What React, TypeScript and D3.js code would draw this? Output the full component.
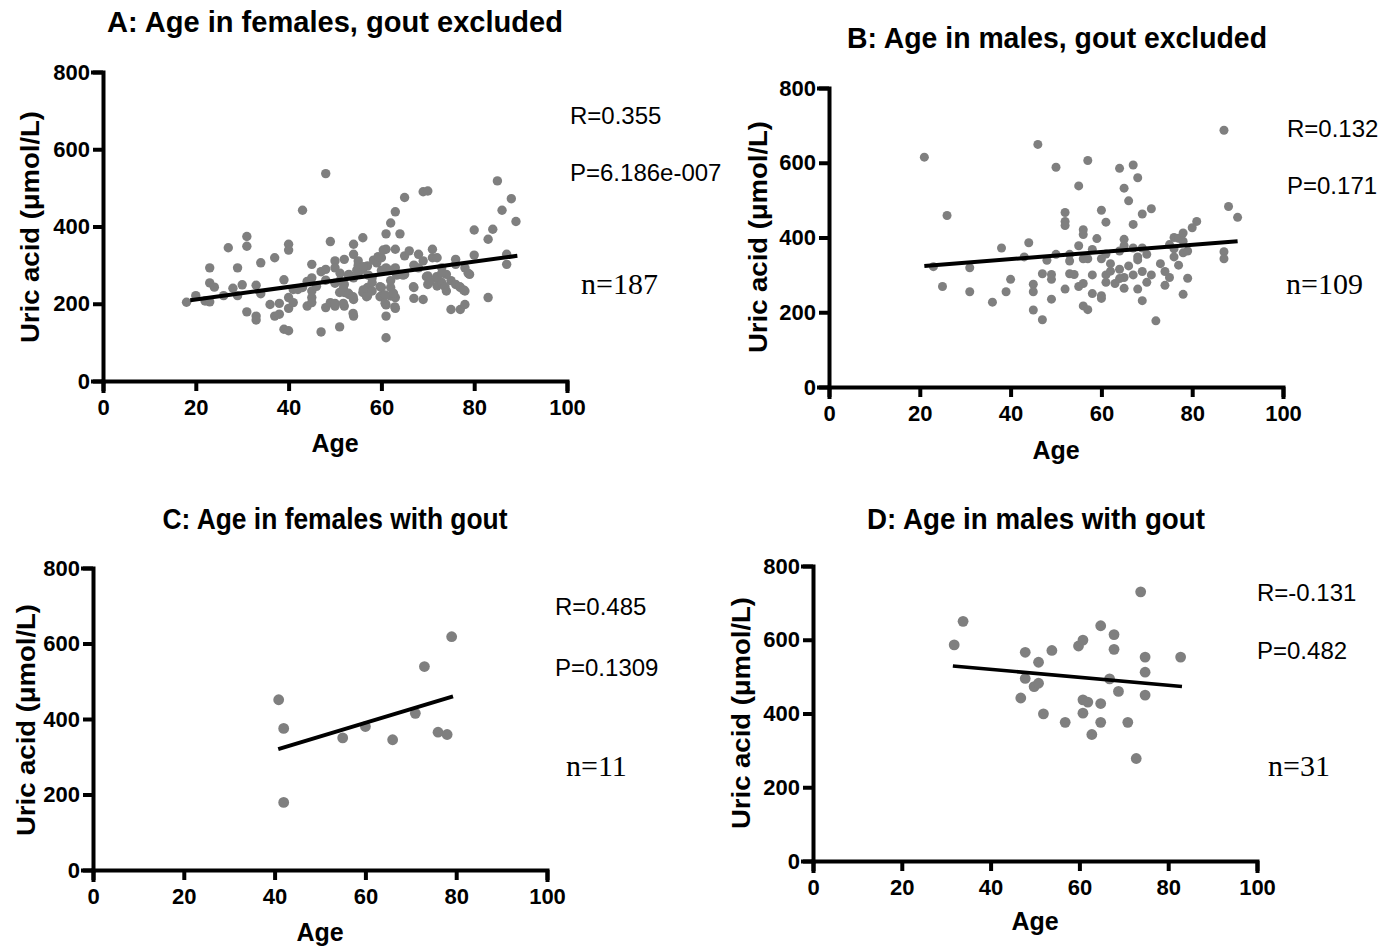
import React, { useEffect, useRef } from 'react';
import * as d3 from 'd3';

// A: females, gout excluded (age, uric acid)
const ageA = [
  18, 20, 22, 23, 23, 24, 23, 26, 27, 28, 29, 29, 30, 31, 31, 31, 33, 33, 33, 34,
  34, 36, 37, 37, 38, 38, 39, 40, 39, 40, 40, 40, 40, 41, 41, 42, 43, 43, 44, 44,
  45, 45, 45, 45, 45, 46, 47, 48, 47, 48, 48, 48, 49, 49, 50, 50, 50, 51, 51, 51,
  52, 52, 52, 52, 53, 53, 54, 54, 54, 54, 54, 55, 55, 55, 56, 56, 56, 57, 57, 57,
  58, 58, 58, 59, 60, 60, 60, 60, 61, 61, 61, 61, 61, 61, 62, 62, 62, 62, 63, 63,
  63, 63, 63, 64, 64, 65, 65, 65,
  51.1, 52.9, 54.7, 56.1, 57.2, 58.3, 59.3, 60.4, 60.4, 61.9, 63.3, 64.7, 50, 51.8,
  52.9, 56.1, 56.8, 59.7, 59.7, 60.8, 62.6, 60.8, 62.9, 53.9, 50, 51.8, 53.9,
  66, 67, 67, 67, 68, 68, 69, 70, 69, 69, 71, 71, 70, 70, 72, 72, 72, 73, 73, 74,
  74, 75, 75, 76, 76, 76, 77, 77, 78, 78, 78, 79, 80, 80, 83, 83, 84, 85, 86, 87,
  87, 88, 89, 66.9, 69.7, 70.5, 71.9, 73, 73.7, 76.9, 77.7, 78.7,
];
const uricA = [
  204, 221, 207, 293, 254, 243, 205, 221, 345, 240, 293, 221, 249, 374, 349, 179, 168, 158, 248, 306,
  226, 198, 319, 168, 201, 173, 134, 130, 262, 354, 339, 216, 188, 203, 237, 237, 442, 242, 194, 258,
  302, 267, 233, 203, 216, 245, 127, 537, 283, 289, 261, 190, 361, 203, 311, 293, 194, 140, 259, 229,
  315, 250, 229, 194, 276, 224, 354, 328, 267, 211, 168, 311, 280, 300, 371, 289, 229, 298, 242, 220,
  267, 233, 255, 306, 319, 286, 242, 220, 381, 341, 293, 197, 168, 112, 409, 242, 220, 260, 438, 341,
  293, 216, 188, 381, 276, 475, 324, 276,
  279, 274, 287, 296, 274, 313, 322, 339, 287, 287, 274, 274, 253, 240,
  227, 236, 218, 244, 218, 223, 227, 201, 192, 218, 201, 201, 175,
  337, 242, 214, 300, 328, 293, 490, 492, 311, 211, 341, 319, 272, 250, 319, 267, 246, 293, 255, 276,
  233, 185, 260, 315, 302, 250, 185, 242, 293, 233, 198, 276, 391, 326, 367, 216, 393, 518, 442, 328,
  302, 472, 413, 244, 270, 257, 270, 279, 244, 244, 236, 279,
];

// B: males, gout excluded
const ageB = [
  21, 23, 25, 26, 31, 31, 36, 38, 39, 40, 43, 44, 45, 45, 45, 46, 47, 47, 48, 49,
  49, 49, 50, 50, 52, 52, 52, 52, 53, 53, 54, 55, 55, 55, 56, 56, 56, 56, 56, 57,
  57, 57, 58, 58, 59, 60, 60, 60, 60, 61, 61, 61, 61, 62, 63, 64, 64, 64, 65, 65,
  65, 65, 65, 66, 66, 67, 67, 67, 67, 68, 68, 68, 69, 69, 69, 69, 70, 70, 71, 72,
  74, 74, 75, 75, 76, 76, 77, 77, 78, 78, 78, 78, 79, 79, 80, 81, 87, 87, 87, 88,
  90, 53, 58, 62, 64, 68, 71, 73, 76,
];
const uricB = [
  615, 322, 269, 459, 319, 255, 227, 372, 255, 288, 348, 386, 275, 255, 206, 649, 180, 303, 339, 301,
  288, 235, 588, 355, 467, 443, 432, 262, 337, 303, 301, 538, 378, 269, 421, 408, 343, 277, 217, 606,
  343, 207, 368, 250, 397, 473, 343, 244, 237, 441, 356, 300, 280, 310, 277, 585, 364, 315, 532, 395,
  378, 293, 264, 498, 324, 594, 435, 372, 300, 560, 348, 262, 463, 372, 309, 231, 355, 280, 477, 177,
  309, 272, 381, 293, 400, 348, 398, 326, 412, 390, 359, 248, 364, 291, 426, 443, 687, 362, 343, 483,
  454, 355, 300, 330, 290, 340, 300, 330, 370,
];

// C: females with gout
const ageC = [40.9, 42, 42, 55, 60, 66, 71, 73, 76, 78, 79];
const uricC = [451, 375, 179, 350, 380, 345, 415, 539, 365, 359, 618];

// D: males with gout
const ageD = [
  31.8, 33.8, 47.8, 46.8, 47.8, 49.8, 50.8, 50.8, 51.9, 53.8, 56.8, 59.8, 60.8, 60.8, 61.9, 60.8,
  62.8, 64.8, 64.8, 64.8, 66.8, 67.8, 67.8, 68.8, 70.9, 72.8, 73.8, 74.8, 74.8, 74.8, 82.8,
];
const uricD = [
  586, 650, 566, 442, 495, 473, 539, 482, 399, 571, 376, 583, 599, 437, 431, 401,
  343, 638, 427, 376, 494, 614, 574, 460, 376, 278, 730, 553, 512, 450, 553,
];

// regression lines: [start, end]
const fitAgeA = [18.8, 89.3];
const fitUricA = [209, 324];
const fitAgeB = [21, 90];
const fitUricB = [324, 390];
const fitAgeC = [40.8, 79.3];
const fitUricC = [320, 460];
const fitAgeD = [31.5, 83.1];
const fitUricD = [529, 473];

const xTicks = [0, 20, 40, 60, 80, 100];
const yTicks = [0, 200, 400, 600, 800];

const panels = [
  {
    title: 'A: Age in females, gout excluded', ages: ageA, uric: uricA, fitAge: fitAgeA, fitUric: fitUricA,
    stats: ['R=0.355', 'P=6.186e-007'], n: 'n=187',
    x0: 103, x1: 567, y0: 381, y1: 72, titleX: 335, titleY: 32, titleLen: 456,
    yLabX: 30, yLabY: 227, xLabY: 452, statX: 570, statY: [124, 181], nX: 581, nY: 294, dot: 4.7, lineW: 4,
  },
  {
    title: 'B: Age in males, gout excluded', ages: ageB, uric: uricB, fitAge: fitAgeB, fitUric: fitUricB,
    stats: ['R=0.132', 'P=0.171'], n: 'n=109',
    x0: 829, x1: 1283, y0: 387, y1: 88, titleX: 1057, titleY: 48, titleLen: 420,
    yLabX: 758, yLabY: 237, xLabY: 459, statX: 1287, statY: [137, 194], nX: 1286, nY: 294, dot: 4.5, lineW: 4,
  },
  {
    title: 'C: Age in females with gout', ages: ageC, uric: uricC, fitAge: fitAgeC, fitUric: fitUricC,
    stats: ['R=0.485', 'P=0.1309'], n: 'n=11',
    x0: 93, x1: 547, y0: 870, y1: 568, titleX: 335, titleY: 529, titleLen: 345,
    yLabX: 26, yLabY: 720, xLabY: 941, statX: 555, statY: [615, 676], nX: 566, nY: 776, dot: 5.4, lineW: 4,
  },
  {
    title: 'D: Age in males with gout', ages: ageD, uric: uricD, fitAge: fitAgeD, fitUric: fitUricD,
    stats: ['R=-0.131', 'P=0.482'], n: 'n=31',
    x0: 813, x1: 1257, y0: 861, y1: 566, titleX: 1036, titleY: 529, titleLen: 338,
    yLabX: 741, yLabY: 713, xLabY: 930, statX: 1257, statY: [601, 659], nX: 1268, nY: 776, dot: 5.4, lineW: 3.5,
  },
];

const SANS = '"Liberation Sans", Arial, sans-serif';
const SERIF = '"Liberation Serif", "Times New Roman", serif';

export default function App() {
  const ref = useRef<SVGSVGElement>(null);

  useEffect(() => {
    const svg = d3.select(ref.current);
    svg.selectAll('*').remove();

    panels.forEach((p) => {
      const x = d3.scaleLinear().domain([0, 100]).range([p.x0, p.x1]);
      const y = d3.scaleLinear().domain([0, 800]).range([p.y0, p.y1]);
      const g = svg.append('g');

      // axes
      const xAxis = g.append('g')
        .attr('transform', `translate(0, ${p.y0})`)
        .call(d3.axisBottom(x).tickValues(xTicks).tickSizeOuter(0).tickSize(10).tickPadding(8));
      const yAxis = g.append('g')
        .attr('transform', `translate(${p.x0}, 0)`)
        .call(d3.axisLeft(y).tickValues(yTicks).tickSizeOuter(0).tickSize(10).tickPadding(3));

      [xAxis, yAxis].forEach((a) => {
        a.select('.domain').attr('stroke', '#000').attr('stroke-width', 4).attr('stroke-linecap', 'square');
        a.selectAll('.tick line').attr('stroke', '#000').attr('stroke-width', 4);
        a.selectAll('.tick text')
          .attr('fill', '#000')
          .style('font-family', SANS)
          .style('font-weight', 'bold')
          .style('font-size', '22px');
      });

      // points
      g.append('g')
        .selectAll('circle')
        .data(p.ages)
        .join('circle')
        .attr('cx', (d) => x(d))
        .attr('cy', (d, i) => y(p.uric[i]))
        .attr('r', p.dot)
        .attr('fill', '#7f7f7f');

      // regression line
      const line = d3.line<number>()
        .x((d) => x(d))
        .y((d, i) => y(p.fitUric[i]));
      g.append('path')
        .datum(p.fitAge)
        .attr('fill', 'none')
        .attr('stroke', '#000')
        .attr('stroke-width', p.lineW)
        .attr('d', line);

      // title
      g.append('text')
        .attr('x', p.titleX)
        .attr('y', p.titleY)
        .attr('text-anchor', 'middle')
        .attr('textLength', p.titleLen)
        .attr('lengthAdjust', 'spacingAndGlyphs')
        .style('font-family', SANS)
        .style('font-weight', 'bold')
        .style('font-size', '29px')
        .text(p.title);

      // axis labels
      g.append('text')
        .attr('transform', `translate(${p.yLabX + 9}, ${p.yLabY}) rotate(-90)`)
        .attr('text-anchor', 'middle')
        .attr('textLength', 232)
        .attr('lengthAdjust', 'spacingAndGlyphs')
        .style('font-family', SANS)
        .style('font-weight', 'bold')
        .style('font-size', '26px')
        .text('Uric acid (μmol/L)');

      g.append('text')
        .attr('x', (p.x0 + p.x1) / 2)
        .attr('y', p.xLabY)
        .attr('text-anchor', 'middle')
        .style('font-family', SANS)
        .style('font-weight', 'bold')
        .style('font-size', '25px')
        .text('Age');

      // stats
      p.stats.forEach((s, i) => {
        g.append('text')
          .attr('x', p.statX)
          .attr('y', p.statY[i])
          .style('font-family', SANS)
          .style('font-size', '24px')
          .text(s);
      });
      g.append('text')
        .attr('x', p.nX)
        .attr('y', p.nY)
        .style('font-family', SERIF)
        .style('font-size', '30px')
        .text(p.n);
    });
  }, []);

  return (
    <svg
      ref={ref}
      width={1395}
      height={946}
      style={{ position: 'absolute', left: 0, top: 0, background: '#fff', display: 'block' }}
    />
  );
}
